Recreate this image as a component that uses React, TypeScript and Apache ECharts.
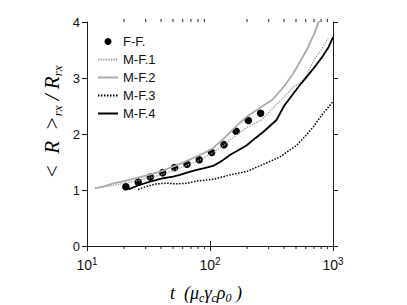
import React, { useEffect, useRef } from 'react';
import * as echarts from 'echarts';

// ---- data ----
const ffT = [20.7, 26.1, 32.7, 41.2, 51.6, 65, 81.8, 103, 130, 163, 205, 258];
const ffR = [1.06, 1.14, 1.23, 1.31, 1.4, 1.46, 1.54, 1.67, 1.81, 2.05, 2.24, 2.37];

const mf1T = [11.6, 15, 20, 26, 33, 41, 52, 65, 82, 103, 130, 163, 200, 262, 320, 400, 475, 540, 600, 693, 800, 912];
const mf1R = [1.03, 1.07, 1.12, 1.17, 1.22, 1.28, 1.36, 1.44, 1.53, 1.65, 1.8, 1.98, 2.12, 2.25, 2.45, 2.66, 2.84, 2.91, 3.02, 3.3, 3.5, 3.71];

const mf2T = [11.6, 14, 16.4, 20, 26, 33, 41, 52, 65, 82, 103, 130, 165, 199, 240, 325, 400, 475, 611, 700, 780];
const mf2R = [1.03, 1.07, 1.12, 1.16, 1.22, 1.28, 1.34, 1.43, 1.52, 1.62, 1.73, 1.92, 2.15, 2.31, 2.43, 2.62, 2.85, 3.08, 3.5, 3.78, 4.05];

const mf3T = [26, 30, 36.8, 45, 53.6, 65, 78, 106, 146, 199, 272, 370, 507, 600, 693, 832, 1000];
const mf3R = [1.01, 1.06, 1.11, 1.12, 1.11, 1.12, 1.16, 1.19, 1.27, 1.33, 1.46, 1.59, 1.8, 1.97, 2.13, 2.37, 2.58];

const mf4T = [21.7, 26, 32.5, 41.7, 50, 57, 65, 78, 90, 106, 125, 146, 170, 199, 235, 272, 347, 400, 475, 540, 611, 700, 832, 920, 1000];
const mf4R = [1.01, 1.08, 1.15, 1.21, 1.24, 1.27, 1.31, 1.36, 1.39, 1.43, 1.52, 1.63, 1.71, 1.8, 1.93, 2.04, 2.25, 2.5, 2.72, 2.88, 3.02, 3.18, 3.4, 3.55, 3.73];

const seriesNames = ['F-F.', 'M-F.1', 'M-F.2', 'M-F.3', 'M-F.4'];
const xMin = 10;
const xMax = 1000;
const yMin = 0;
const yMax = 4;
const yTicks = [0, 1, 2, 3, 4];
const minorTicks = [20, 30, 40, 50, 60, 70, 80, 90, 200, 300, 400, 500, 600, 700, 800, 900];

const pairs = (t: number[], r: number[]) => t.map((v, i) => [v, r[i]]);

const AX = '#1a1a1a';
const SANS = '"Liberation Sans", Arial, sans-serif';
const SERIF = '"Liberation Serif", "DejaVu Serif", serif';

export default function App() {
  const ref = useRef<HTMLDivElement>(null);
  useEffect(() => {
    if (!ref.current) return;
    const chart = echarts.init(ref.current, null, { renderer: 'svg' });
    const axisLine = { show: true, lineStyle: { color: AX, width: 1 } };
    const axisTick = { show: true, inside: false, length: 5, lineStyle: { color: AX, width: 1 } };
    chart.setOption({
      animation: false,
      backgroundColor: '#fff',
      grid: { left: 87, top: 22, width: 246, height: 224, containLabel: false },
      legend: {
        data: seriesNames.map((n, i) =>
          i === 0 ? { name: n } : { name: n, itemStyle: { opacity: 0 } }
        ),
        orient: 'vertical',
        left: 97,
        top: 35,
        padding: 0,
        itemWidth: 20,
        itemHeight: 7,
        itemGap: 5,
        textStyle: { fontFamily: SANS, fontSize: 13, color: '#111', lineHeight: 13 },
      },
      xAxis: [
        {
          type: 'log',
          logBase: 10,
          min: xMin,
          max: xMax,
          axisLine,
          axisTick,
          splitLine: { show: false },
          axisLabel: {
            margin: 10,
            formatter: (v: number) => '{b|10}{s|' + Math.round(Math.log10(v)) + '}',
            rich: {
              b: { fontFamily: SANS, fontSize: 14, color: '#111', lineHeight: 16, verticalAlign: 'bottom' },
              s: { fontFamily: SANS, fontSize: 10, color: '#111', lineHeight: 10, verticalAlign: 'top' },
            },
          },
        },
        {
          type: 'log',
          logBase: 10,
          min: xMin,
          max: xMax,
          position: 'top',
          axisLine,
          axisTick,
          splitLine: { show: false },
          axisLabel: { show: false },
        },
      ],
      yAxis: [
        {
          type: 'value',
          min: yMin,
          max: yMax,
          interval: 1,
          axisLine,
          axisTick,
          splitLine: { show: false },
          axisLabel: {
            margin: 7,
            fontFamily: SANS,
            fontSize: 13,
            color: '#111',
            formatter: (v: number) => (yTicks.includes(v) ? String(v) : ''),
          },
        },
        {
          type: 'value',
          min: yMin,
          max: yMax,
          interval: 1,
          position: 'right',
          axisLine,
          axisTick,
          splitLine: { show: false },
          axisLabel: { show: false },
        },
      ],
      series: [
        {
          name: 'F-F.',
          type: 'scatter',
          data: pairs(ffT, ffR),
          symbol: 'circle',
          symbolSize: 7.5,
          itemStyle: { color: '#000', opacity: 1 },
          z: 2,
        },
        {
          name: 'M-F.1',
          type: 'line',
          data: pairs(mf1T, mf1R),
          symbol: 'none',
          lineStyle: { color: '#9a9a9a', width: 1.3, type: [1.3, 1.3] },
          itemStyle: { color: '#9a9a9a' },
          z: 3,
        },
        {
          name: 'M-F.2',
          type: 'line',
          data: pairs(mf2T, mf2R),
          symbol: 'none',
          lineStyle: { color: '#ababab', width: 1.8 },
          itemStyle: { color: '#ababab' },
          z: 3,
        },
        {
          name: 'M-F.3',
          type: 'line',
          data: pairs(mf3T, mf3R),
          symbol: 'none',
          lineStyle: { color: '#000', width: 1.5, type: [1.5, 1.5] },
          itemStyle: { color: '#000' },
          z: 3,
        },
        {
          name: 'M-F.4',
          type: 'line',
          data: pairs(mf4T, mf4R),
          symbol: 'none',
          lineStyle: { color: '#000', width: 1.8 },
          itemStyle: { color: '#000' },
          z: 3,
        },
        {
          type: 'custom',
          clip: false,
          silent: true,
          data: minorTicks.map((v) => [v, yMin]),
          renderItem: (params: any, api: any) => {
            const v = api.value(0);
            const b = api.coord([v, yMin]);
            const t = api.coord([v, yMax]);
            return {
              type: 'group',
              children: [
                { type: 'line', shape: { x1: b[0], y1: b[1], x2: b[0], y2: b[1] + 3 }, style: { stroke: AX, lineWidth: 1 } },
                { type: 'line', shape: { x1: t[0], y1: t[1], x2: t[0], y2: t[1] - 3 }, style: { stroke: AX, lineWidth: 1 } },
              ],
            };
          },
        },
      ],
      graphic: [
        {
          type: 'text',
          x: 206,
          y: 293,
          style: {
            text: '{m|t  (μ}{s|c}{m|γ}{s|c}{m|ρ}{s|0}{m| )}',
            align: 'center',
            verticalAlign: 'middle',
            rich: {
              m: { fontFamily: SERIF, fontStyle: 'italic', fontSize: 18, color: '#111', lineHeight: 22, verticalAlign: 'middle' },
              s: { fontFamily: SERIF, fontStyle: 'italic', fontSize: 12, color: '#111', lineHeight: 12, verticalAlign: 'bottom' },
            },
          },
        },
        {
          type: 'text',
          x: 52,
          y: 122,
          rotation: Math.PI / 2,
          style: {
            text: '{m|<  R  >}{s|rx}{m| / R}{s|rx}',
            align: 'center',
            verticalAlign: 'middle',
            rich: {
              m: { fontFamily: SERIF, fontStyle: 'italic', fontSize: 21, color: '#111', lineHeight: 24, verticalAlign: 'middle' },
              s: { fontFamily: SERIF, fontStyle: 'italic', fontSize: 13, color: '#111', lineHeight: 13, verticalAlign: 'bottom' },
            },
          },
        },
      ],
    });
    return () => chart.dispose();
  }, []);
  return (
    <div
      ref={ref}
      style={{ position: 'fixed', left: 0, top: 0, width: 407, height: 305, background: '#fff' }}
    />
  );
}
